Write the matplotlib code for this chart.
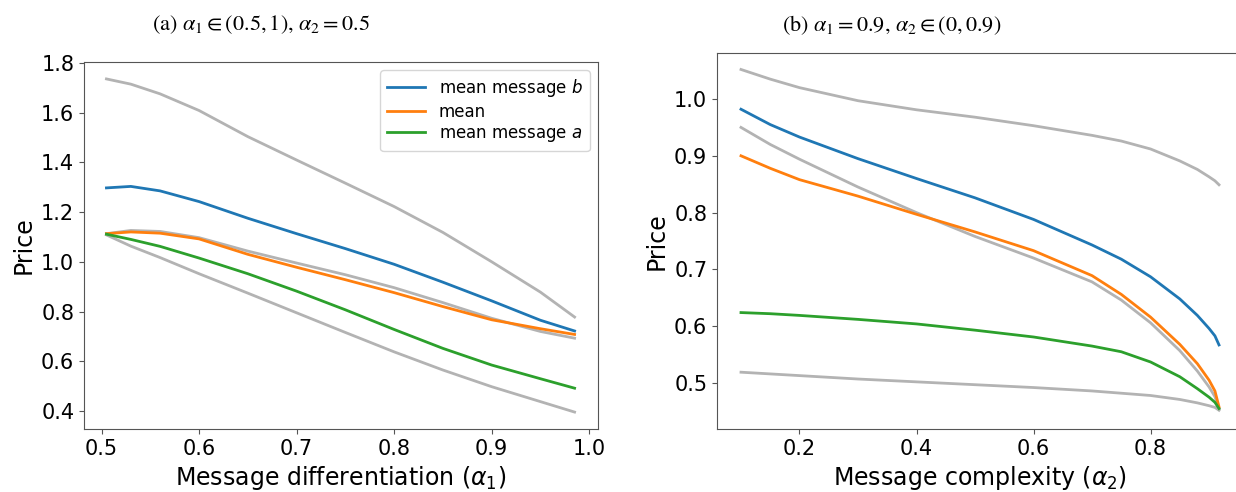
import numpy as np
import matplotlib
matplotlib.use("Agg")
import matplotlib.pyplot as plt

# (a) alpha1 in (0.5, 1), alpha2 = 0.5
a1 = [0.505, 0.53, 0.56, 0.60, 0.65, 0.70, 0.75, 0.80, 0.85, 0.90, 0.95, 0.985]
a_top = [1.735, 1.714, 1.675, 1.608, 1.503, 1.409, 1.316, 1.222, 1.118, 1.0, 0.878, 0.778]
a_b = [1.297, 1.303, 1.285, 1.242, 1.175, 1.113, 1.053, 0.99, 0.918, 0.843, 0.765, 0.722]
a_gup = [1.113, 1.126, 1.122, 1.097, 1.043, 0.995, 0.948, 0.896, 0.836, 0.773, 0.72, 0.693]
a_mean = [1.113, 1.12, 1.115, 1.092, 1.03, 0.978, 0.928, 0.876, 0.82, 0.767, 0.731, 0.708]
a_a = [1.111, 1.09, 1.062, 1.015, 0.952, 0.882, 0.807, 0.728, 0.652, 0.585, 0.53, 0.492]
a_low = [1.108, 1.063, 1.017, 0.952, 0.874, 0.795, 0.716, 0.638, 0.565, 0.498, 0.438, 0.396]

# (b) alpha1 = 0.9, alpha2 in (0, 0.9)
a2 = [0.1, 0.15, 0.2, 0.3, 0.4, 0.5, 0.6, 0.7, 0.75, 0.8, 0.85, 0.88, 0.9, 0.91, 0.917]
b_top = [1.052, 1.035, 1.02, 0.997, 0.981, 0.968, 0.953, 0.936, 0.926, 0.912, 0.891, 0.876, 0.863, 0.856, 0.849]
b_b = [0.982, 0.955, 0.933, 0.895, 0.86, 0.826, 0.788, 0.743, 0.718, 0.687, 0.648, 0.619, 0.596, 0.583, 0.567]
b_gmid = [0.95, 0.92, 0.894, 0.845, 0.8, 0.758, 0.72, 0.678, 0.646, 0.606, 0.557, 0.521, 0.493, 0.476, 0.455]
b_mean = [0.90, 0.878, 0.858, 0.829, 0.797, 0.766, 0.733, 0.689, 0.656, 0.616, 0.568, 0.534, 0.505, 0.486, 0.458]
b_a = [0.624, 0.622, 0.619, 0.612, 0.604, 0.593, 0.581, 0.565, 0.555, 0.537, 0.511, 0.49, 0.475, 0.466, 0.455]
b_low = [0.519, 0.516, 0.513, 0.507, 0.502, 0.497, 0.492, 0.486, 0.482, 0.478, 0.471, 0.465, 0.46, 0.457, 0.452]

grey = "#b3b3b3"
W, H = 1236, 492
fig = plt.figure(figsize=(W / 100, H / 100), dpi=100)
ax1 = fig.add_axes([84 / W, 1 - 429 / H, 514 / W, 367 / H])
ax2 = fig.add_axes([717 / W, 1 - 429 / H, 526 / W, 376 / H])

for y in (a_top, a_gup, a_low):
    ax1.plot(a1, y, color=grey, lw=2)
ax1.plot(a1, a_b, color="C0", lw=2, label="mean message $b$")
ax1.plot(a1, a_mean, color="C1", lw=2, label="mean")
ax1.plot(a1, a_a, color="C2", lw=2, label="mean message $a$")
ax1.set_xlim(0.482, 1.009)
ax1.set_ylim(0.328, 1.803)
ax1.set_xlabel(r"Message differentiation ($\alpha_1$)", fontsize=17)
ax1.set_ylabel("Price", fontsize=17)
ax1.legend(loc="upper right", fontsize=12, labelspacing=0.22, handlelength=2.3)

for y in (b_top, b_gmid, b_low):
    ax2.plot(a2, y, color=grey, lw=2)
ax2.plot(a2, b_b, color="C0", lw=2)
ax2.plot(a2, b_mean, color="C1", lw=2)
ax2.plot(a2, b_a, color="C2", lw=2)
ax2.set_xlim(0.059, 0.958)
ax2.set_ylim(0.419, 1.081)
ax2.set_xticks([0.2, 0.4, 0.6, 0.8])
ax2.set_xlabel(r"Message complexity ($\alpha_2$)", fontsize=17)
ax2.set_ylabel("Price", fontsize=17)

for ax in (ax1, ax2):
    ax.tick_params(labelsize=15, color="#555555")
    for s in ax.spines.values():
        s.set_color("#555555")

fig.text(261 / W, 1 - 25 / H, r"(a) $\alpha_1 \in (0.5, 1)$, $\alpha_2 = 0.5$",
         ha="center", va="center", fontsize=16, family="STIXGeneral", math_fontfamily="stix")
fig.text(892 / W, 1 - 25 / H, r"(b) $\alpha_1 = 0.9$, $\alpha_2 \in (0, 0.9)$",
         ha="center", va="center", fontsize=16, family="STIXGeneral", math_fontfamily="stix")

fig.savefig("out.png", dpi=100)
